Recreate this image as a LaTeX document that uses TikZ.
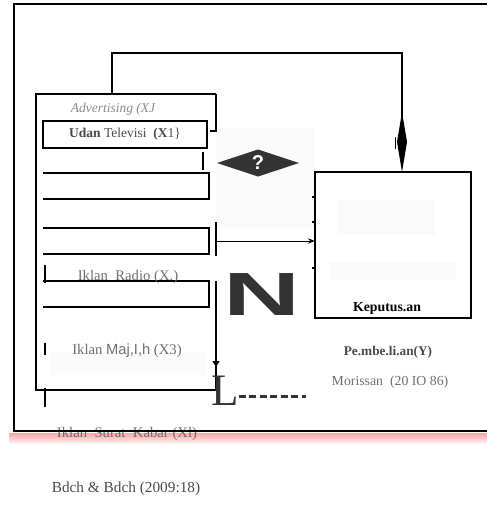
\documentclass[tikz,border=0pt]{standalone}
\usepackage{fontspec}
\setmainfont{Liberation Serif}
\newfontfamily\arialfont{Liberation Sans}
\usetikzlibrary{arrows.meta,shapes.geometric}

\definecolor{txtdark}{HTML}{4A4A4A}
\definecolor{txtmid}{HTML}{6E6E6E}
\definecolor{txtlight}{HTML}{8A8A8A}
\definecolor{markgray}{HTML}{333333}

\begin{document}
\begin{tikzpicture}[x=1pt,y=-1pt,
  every node/.style={font=\fontsize{13.5}{15}\selectfont,inner sep=0pt,outer sep=0pt},
  box/.style={minimum width=166pt,minimum height=26pt},
  thickline/.style={line width=2.5pt},
  lbl/.style={text=txtmid,font=\fontsize{14.7}{16}\selectfont}]
  \useasboundingbox (0,0) rectangle (487,509);

  % faint patches
  \fill[gray!4] (216,128) rectangle (315,228);
  \fill[gray!4] (337,200) rectangle (435,235);
  \fill[gray!4] (330,262) rectangle (456,280);
  \fill[gray!3] (50,352) rectangle (205,375);
  \shade[top color=red!35,bottom color=red!6] (9,433) rectangle (487,443);

  % boxes
  \node[minimum width=180pt,minimum height=296pt] (adv) at (126,242) {};
  \node[draw,thickline,minimum width=164pt,minimum height=27pt,text=txtdark] (b1) at (125,134.5)
    {\textbf{Udan} Televisi\enspace \textbf{(X}1\}};
  \node[box] (b2) at (126,186) {};
  \node[box] (b3) at (126,241) {};
  \node[box] (b4) at (126,294) {};
  \node[draw,thickline,minimum width=156pt,minimum height=146pt] (kep) at (393,245) {};

  \draw[thickline] (adv.north east) |- (adv.north west) |- (adv.south east) -- ++(0,-30);
  \draw[thickline] (adv.north east) -- ++(0,37) -- ++(-6,0);
  \foreach \b in {b2,b3,b4}
    \draw[thickline] (\b.north west) -- (\b.north east) -- (\b.south east) -- (\b.south west);

  % labels
  \node[text=txtlight,font=\fontsize{13.5}{15}\selectfont\itshape] (advlbl) at (113,109) {Advertising (XJ};
  \node[lbl] (radio) at (128,277) {Iklan\enspace Radio (X.)};
  \node[lbl] (majalah) at (127,351) {Iklan {\arialfont Maj,I,h} (X3)};
  \node[lbl] (koran) at (127,434) {Iklan\enspace Surat\enspace Kabar (Xl)};
  \node[font=\fontsize{13.8}{15}\selectfont\bfseries] (keplbl) at (387,308) {Keputus.an};
  \node[font=\fontsize{13.3}{15}\selectfont\bfseries,text=txtdark] (pemb) at (388,352) {Pe.mbe.li.an(Y)};
  \node[lbl,font=\fontsize{13.8}{15}\selectfont] (moris) at (390,382) {Morissan\enspace (20 IO 86)};
  \node[text=txtdark,font=\fontsize{15.3}{17}\selectfont] (src) at (126,489) {Bdch \& Bdch (2009:18)};

  % marks
  \node[diamond,aspect=3,fill=markgray,minimum width=82pt,minimum height=27pt,
    text=white,font=\arialfont\bfseries\fontsize{20}{20}\selectfont] (quest) at (258,163) {?};
  \node[text=markgray,font=\arialfont\bfseries\fontsize{61}{61}\selectfont] (bign) at (262,295)
    {\scalebox{1.75}[1]{N}};
  \node[text=markgray,font=\fontsize{45}{45}\selectfont] (bigl) at (225,391) {L};
  \coordinate (dashend) at (306,396);
  \draw[line width=3pt,markgray,dash pattern=on 7pt off 3.5pt] ([yshift=-5pt]bigl.east) -- (dashend);

  % frame
  \draw[line width=2.8pt] (487,4) -- (14,4) -- (14,431) -- (487,431);

  % connectors
  \coordinate (fbl) at (112,53);
  \coordinate (fbr) at (402,53);
  \draw[thickline,-{Kite[length=60pt,width=10pt,inset=30pt]}]
    ([xshift=-14pt]adv.north) -- (fbl) -- (fbr) -- (kep.north -| fbr);
  \draw[line width=1pt,-{Stealth[length=7pt]}] (b3.east -| adv.east) -- (b3.east -| kep.west);
  \draw[line width=1.6pt] ([yshift=6pt]b3.north -| adv.east) -- ++(0,34);
  \draw[line width=1.6pt,-{Triangle[length=6pt,width=7pt]}] (b4.north -| adv.east) -- ++(0,86);
  \draw[line width=2pt] (203,152) -- (203,170);
  \draw[line width=1pt] (395,137) -- (395,149);
  \foreach \y/\h in {265/18,343/12,388/19}
    \draw[line width=1.2pt] (45,\y) -- ++(0,\h);
  \foreach \y in {197,222,268}
    \draw[line width=1.2pt] (312,\y) -- (315,\y);
\end{tikzpicture}
\end{document}
